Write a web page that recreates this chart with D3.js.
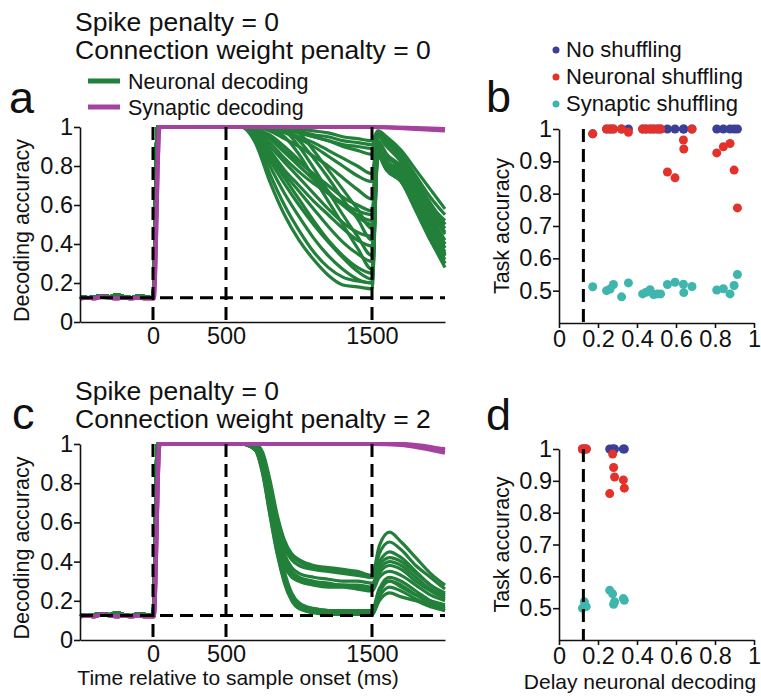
<!DOCTYPE html>
<html>
<head>
<meta charset="utf-8">
<script src="https://cdn.jsdelivr.net/npm/d3@7"></script>
<style>
  body { margin: 0; background: #fff; }
  text { font-family: Arial, "Liberation Sans", sans-serif; fill: #111; }
</style>
</head>
<body>
<div class="chart"></div>
<script>
// ---- data ----
// time before sample onset (ms), shared baseline of the decoders
const preTimes = [-500, -450, -400, -350, -300, -250, -200, -150, -100, -50, -5];
const baseGreen = [0.13, 0.125, 0.13, 0.135, 0.13, 0.14, 0.13, 0.125, 0.135, 0.13, 0.125];
const basePurple = [0.12, 0.125, 0.12, 0.13, 0.125, 0.12, 0.125, 0.12, 0.125, 0.12, 0.12];

// panel a: neuronal decoding traces
const lateTimesA = [600, 700, 800, 900, 1000, 1100, 1200, 1300, 1400, 1500, 1540, 1600, 1700, 1800, 1900, 2000];
const neuronalA = [
  [1, 1, 1, 1, 0.99, 0.98, 0.97, 0.95, 0.94, 0.93, 0.98, 0.95, 0.88, 0.78, 0.68, 0.58],
  [1, 1, 1, 1, 0.98, 0.96, 0.95, 0.93, 0.92, 0.91, 0.97, 0.94, 0.86, 0.75, 0.64, 0.55],
  [1, 1, 1, 0.99, 0.97, 0.95, 0.93, 0.91, 0.9, 0.89, 0.97, 0.93, 0.85, 0.73, 0.61, 0.5],
  [1, 1, 1, 0.99, 0.97, 0.95, 0.93, 0.9, 0.88, 0.86, 0.96, 0.92, 0.84, 0.72, 0.6, 0.52],
  [1, 1, 1, 0.98, 0.95, 0.92, 0.88, 0.84, 0.8, 0.76, 0.95, 0.9, 0.82, 0.7, 0.57, 0.46],
  [1, 1, 1, 1, 0.97, 0.88, 0.78, 0.68, 0.58, 0.48, 0.92, 0.84, 0.8, 0.68, 0.54, 0.42],
  [1, 1, 1, 0.99, 0.93, 0.84, 0.74, 0.63, 0.53, 0.42, 0.9, 0.82, 0.78, 0.66, 0.52, 0.4],
  [1, 1, 1, 0.98, 0.9, 0.79, 0.67, 0.55, 0.44, 0.34, 0.9, 0.8, 0.77, 0.64, 0.5, 0.38],
  [1, 1, 0.99, 0.95, 0.86, 0.74, 0.62, 0.5, 0.38, 0.27, 0.88, 0.79, 0.75, 0.62, 0.47, 0.34],
  [1, 1, 0.98, 0.94, 0.9, 0.85, 0.8, 0.74, 0.68, 0.63, 0.93, 0.86, 0.78, 0.64, 0.5, 0.38],
  [1, 0.99, 0.95, 0.88, 0.82, 0.76, 0.7, 0.64, 0.6, 0.57, 0.92, 0.85, 0.8, 0.68, 0.56, 0.45],
  [1, 0.99, 0.94, 0.87, 0.8, 0.73, 0.66, 0.6, 0.55, 0.52, 0.9, 0.82, 0.78, 0.62, 0.48, 0.35],
  [1, 0.98, 0.92, 0.84, 0.77, 0.71, 0.66, 0.61, 0.57, 0.55, 0.9, 0.8, 0.76, 0.65, 0.5, 0.4],
  [1, 0.98, 0.9, 0.82, 0.74, 0.66, 0.58, 0.51, 0.46, 0.44, 0.88, 0.8, 0.74, 0.6, 0.45, 0.32],
  [1, 0.98, 0.88, 0.78, 0.7, 0.62, 0.55, 0.48, 0.42, 0.39, 0.9, 0.82, 0.78, 0.66, 0.52, 0.4],
  [1, 0.97, 0.86, 0.76, 0.67, 0.58, 0.49, 0.41, 0.35, 0.31, 0.88, 0.8, 0.76, 0.6, 0.46, 0.34],
  [1, 0.97, 0.85, 0.74, 0.63, 0.52, 0.42, 0.34, 0.28, 0.25, 0.87, 0.78, 0.72, 0.58, 0.42, 0.3],
  [1, 0.96, 0.83, 0.71, 0.6, 0.5, 0.41, 0.33, 0.26, 0.22, 0.86, 0.78, 0.72, 0.57, 0.42, 0.28],
  [1, 0.95, 0.8, 0.66, 0.54, 0.43, 0.34, 0.27, 0.22, 0.2, 0.88, 0.8, 0.74, 0.6, 0.46, 0.34],
  [1, 0.94, 0.76, 0.6, 0.47, 0.36, 0.28, 0.23, 0.21, 0.2, 0.86, 0.78, 0.72, 0.58, 0.44, 0.3],
  [1, 0.92, 0.72, 0.55, 0.42, 0.32, 0.24, 0.19, 0.18, 0.17, 0.85, 0.78, 0.74, 0.62, 0.48, 0.36],
  [1, 1, 0.99, 0.97, 0.94, 0.9, 0.85, 0.8, 0.75, 0.72, 0.96, 0.92, 0.84, 0.72, 0.6, 0.5],
  [1, 0.99, 0.96, 0.9, 0.83, 0.75, 0.67, 0.6, 0.54, 0.5, 0.92, 0.86, 0.8, 0.7, 0.58, 0.48]
];
const purpleTimesA = [600, 1000, 1500, 1800, 2000];
const synapticA = [
  [1, 1, 1, 0.995, 0.99],
  [1, 1, 1, 0.99, 0.982]
];

// panel c: neuronal decoding traces
const lateTimesC = [600, 700, 750, 800, 850, 900, 950, 1000, 1100, 1200, 1300, 1400, 1500, 1550, 1620, 1700, 1800, 1900, 2000];
const neuronalC = [
  [1, 1, 0.96, 0.82, 0.64, 0.51, 0.44, 0.41, 0.38, 0.37, 0.36, 0.35, 0.33, 0.48, 0.55, 0.5, 0.42, 0.34, 0.28],
  [1, 1, 0.95, 0.8, 0.62, 0.49, 0.43, 0.4, 0.37, 0.36, 0.35, 0.34, 0.32, 0.44, 0.5, 0.46, 0.38, 0.32, 0.26],
  [1, 0.99, 0.94, 0.78, 0.6, 0.47, 0.41, 0.38, 0.36, 0.35, 0.34, 0.33, 0.32, 0.4, 0.45, 0.42, 0.35, 0.28, 0.24],
  [1, 0.99, 0.93, 0.76, 0.57, 0.44, 0.37, 0.34, 0.32, 0.31, 0.3, 0.3, 0.29, 0.36, 0.4, 0.38, 0.32, 0.26, 0.22],
  [1, 0.99, 0.92, 0.74, 0.55, 0.42, 0.35, 0.32, 0.3, 0.29, 0.28, 0.28, 0.27, 0.38, 0.42, 0.4, 0.34, 0.28, 0.23],
  [1, 0.99, 0.91, 0.72, 0.53, 0.4, 0.34, 0.31, 0.29, 0.28, 0.28, 0.27, 0.26, 0.34, 0.38, 0.36, 0.3, 0.25, 0.21],
  [1, 0.98, 0.9, 0.7, 0.51, 0.38, 0.32, 0.3, 0.28, 0.27, 0.27, 0.26, 0.25, 0.32, 0.35, 0.33, 0.28, 0.23, 0.2],
  [1, 0.98, 0.9, 0.72, 0.52, 0.35, 0.24, 0.19, 0.16, 0.15, 0.14, 0.14, 0.14, 0.26, 0.32, 0.3, 0.25, 0.2, 0.17],
  [1, 0.98, 0.88, 0.7, 0.5, 0.33, 0.22, 0.18, 0.15, 0.14, 0.14, 0.14, 0.13, 0.24, 0.3, 0.28, 0.23, 0.19, 0.16],
  [1, 0.97, 0.87, 0.67, 0.47, 0.31, 0.21, 0.17, 0.14, 0.14, 0.13, 0.13, 0.13, 0.22, 0.27, 0.25, 0.21, 0.18, 0.15],
  [1, 0.97, 0.86, 0.65, 0.45, 0.29, 0.2, 0.16, 0.14, 0.13, 0.13, 0.13, 0.13, 0.2, 0.24, 0.22, 0.2, 0.17, 0.15],
  [1, 0.97, 0.85, 0.64, 0.44, 0.3, 0.21, 0.17, 0.16, 0.15, 0.15, 0.15, 0.15, 0.26, 0.3, 0.27, 0.23, 0.2, 0.18]
];
const purpleTimesC = [600, 1500, 1700, 1800, 1900, 2000];
const synapticC = [
  [1, 1, 1, 0.995, 0.985, 0.97],
  [1, 1, 0.995, 0.985, 0.97, 0.955],
  [1, 1, 1, 0.99, 0.98, 0.975]
];

// panel b: task accuracy vs delay neuronal decoding
const delayB = [0.173, 0.244, 0.262, 0.279, 0.321, 0.356, 0.429, 0.447, 0.467, 0.485, 0.505, 0.521, 0.556, 0.595, 0.638, 0.640, 0.682, 0.809, 0.843, 0.877, 0.898, 0.915];
const noShufB = [0.985, 1, 1, 1, 1, 1, 1, 1, 1, 1, 1, 1, 1, 1, 1, 1, 1, 1, 1, 1, 1, 1];
const neurShufB = [0.985, 1, 1, 1, 1, 0.99, 1, 1, 1, 1, 1, 1, 0.867, 0.849, 0.966, 0.938, 1, 0.926, 0.945, 0.955, 0.873, 0.756];
const synShufB = [0.512, 0.5, 0.505, 0.519, 0.481, 0.524, 0.49, 0.495, 0.503, 0.488, 0.49, 0.49, 0.519, 0.526, 0.52, 0.494, 0.513, 0.502, 0.506, 0.49, 0.516, 0.55];

// panel d
const delayD = [0.12, 0.13, 0.14, 0.26, 0.275, 0.28, 0.285, 0.33, 0.335];
const noShufD = [1, 1, 1, 1, 1, 1, 1, 1, 1];
const neurShufD = [1, 1, 1, 0.86, 0.984, 0.942, 0.912, 0.903, 0.877];
const synShufD = [0.5, 0.52, 0.505, 0.556, 0.545, 0.512, 0.52, 0.53, 0.525];

const timeTicks = [0, 500, 1500];
const accTicks = [0, 0.2, 0.4, 0.6, 0.8, 1];
const taskTicks = [0.5, 0.6, 0.7, 0.8, 0.9, 1];
const delayTicks = [0, 0.2, 0.4, 0.6, 0.8, 1];
const chance = 0.125;

const green = '#23803a', purple = '#a5429f';
const navy = '#3c3f98', red = '#e4322b', teal = '#3fb6ad';

const svg = d3.select('.chart')
  .append('svg')
    .attr('width', 761)
    .attr('height', 696);

const fmt = d3.format('~g');
const tickFont = 23.5;

const styleAxis = (a) => {
  a.selectAll('text').attr('font-size', tickFont).attr('fill', '#111');
  a.selectAll('path, line').attr('stroke', '#111').attr('stroke-width', 1.6);
};

const drawTimePanel = (yRange, lateTimes, greens, purpleTimes, purples, showXTitle) => {
  const x = d3.scaleLinear().domain([-500, 2000]).range([80, 445]);
  const y = d3.scaleLinear().domain([0, 1]).range(yRange);
  const g = svg.append('g');

  const line = d3.line()
    .x(d => x(d[0]))
    .y(d => y(d[1]))
    .curve(d3.curveMonotoneX);

  const pre = (base) => preTimes.map((t, i) => [t, base[i]]);

  // neuronal decoding (green)
  g.selectAll('path.neur')
    .data(greens.map(tr => pre(baseGreen).concat([[0, baseGreen[baseGreen.length - 1]], [30, 1]], lateTimes.map((t, j) => [t, tr[j]]))))
    .enter().append('path')
      .attr('class', 'neur')
      .attr('d', line)
      .attr('fill', 'none')
      .attr('stroke', green)
      .attr('stroke-width', 3.2);

  // synaptic decoding (purple)
  g.selectAll('path.syn')
    .data(purples.map(tr => pre(basePurple).concat([[5, basePurple[basePurple.length - 1]], [45, 1]], purpleTimes.map((t, j) => [t, tr[j]]))))
    .enter().append('path')
      .attr('class', 'syn')
      .attr('d', line)
      .attr('fill', 'none')
      .attr('stroke', purple)
      .attr('stroke-width', 4);

  // dashed reference lines
  g.append('line')
    .attr('x1', x(-500)).attr('x2', x(2000))
    .attr('y1', y(chance)).attr('y2', y(chance))
    .attr('stroke', '#000').attr('stroke-width', 3).attr('stroke-dasharray', '13,7');
  g.selectAll('line.vd')
    .data(timeTicks)
    .enter().append('line')
      .attr('class', 'vd')
      .attr('x1', d => x(d)).attr('x2', d => x(d))
      .attr('y1', y(1)).attr('y2', y(0))
      .attr('stroke', '#000').attr('stroke-width', 3).attr('stroke-dasharray', '13,7');

  const xAxis = d3.axisBottom(x).tickValues(timeTicks).tickSize(0).tickPadding(5).tickFormat(fmt);
  const yAxis = d3.axisLeft(y).tickValues(accTicks).tickSize(6).tickSizeOuter(0).tickPadding(1).tickFormat(fmt);

  styleAxis(g.append('g').attr('transform', `translate(0, ${yRange[0]})`).call(xAxis));
  styleAxis(g.append('g').attr('transform', 'translate(80, 0)').call(yAxis));

  g.append('text')
    .attr('transform', `translate(29, ${(yRange[0] + yRange[1]) / 2 + 6}) rotate(-90)`)
    .attr('text-anchor', 'middle')
    .attr('font-size', 21.5)
    .text('Decoding accuracy');

  if (showXTitle) {
    g.append('text')
      .attr('x', 238).attr('y', 685)
      .attr('text-anchor', 'middle')
      .attr('font-size', 21)
      .text('Time relative to sample onset (ms)');
  }
};

const drawScatterPanel = (yRange, delays, noShuf, neurShuf, synShuf, showXTitle) => {
  const x = d3.scaleLinear().domain([0, 1]).range([559, 754]);
  const y = d3.scaleLinear().domain([0.4, 1]).range(yRange);
  const g = svg.append('g');

  const sets = [[noShuf, navy], [neurShuf, red], [synShuf, teal]];
  sets.forEach(([vals, col]) => {
    g.selectAll(null)
      .data(delays.map((d, i) => [d, vals[i]]))
      .enter().append('circle')
        .attr('cx', d => x(d[0]))
        .attr('cy', d => y(d[1]))
        .attr('r', 4.5)
        .attr('fill', col);
  });

  g.append('line')
    .attr('x1', x(chance)).attr('x2', x(chance))
    .attr('y1', y(1)).attr('y2', y(0.4))
    .attr('stroke', '#000').attr('stroke-width', 3).attr('stroke-dasharray', '13,7');

  const xAxis = d3.axisBottom(x).tickValues(delayTicks).tickSize(5).tickSizeOuter(0).tickPadding(2).tickFormat(fmt);
  const yAxis = d3.axisLeft(y).tickValues(taskTicks).tickSize(6).tickSizeOuter(0).tickPadding(1).tickFormat(fmt);
  styleAxis(g.append('g').attr('transform', `translate(0, ${yRange[0]})`).call(xAxis));
  styleAxis(g.append('g').attr('transform', 'translate(559, 0)').call(yAxis));

  g.append('text')
    .attr('transform', `translate(509, ${(yRange[0] + yRange[1]) / 2}) rotate(-90)`)
    .attr('text-anchor', 'middle')
    .attr('font-size', 21.5)
    .text('Task accuracy');

  if (showXTitle) {
    g.append('text')
      .attr('x', 640).attr('y', 689)
      .attr('text-anchor', 'middle')
      .attr('font-size', 21)
      .text('Delay neuronal decoding');
  }
};

drawTimePanel([322, 127], lateTimesA, neuronalA, purpleTimesA, synapticA, false);
drawTimePanel([640, 444], lateTimesC, neuronalC, purpleTimesC, synapticC, true);
drawScatterPanel([323, 129], delayB, noShufB, neurShufB, synShufB, false);
drawScatterPanel([640, 449], delayD, noShufD, neurShufD, synShufD, true);

// titles
const titles = [
  ['Spike penalty = 0', 31], ['Connection weight penalty = 0', 59],
  ['Spike penalty = 0', 400], ['Connection weight penalty = 2', 428]
];
svg.selectAll('text.title')
  .data(titles)
  .enter().append('text')
    .attr('class', 'title')
    .attr('x', 75).attr('y', d => d[1])
    .attr('font-size', 26.5)
    .text(d => d[0]);

// panel letters
const letters = [['a', 9, 113], ['b', 486, 112], ['c', 12, 429], ['d', 486, 430]];
svg.selectAll('text.letter')
  .data(letters)
  .enter().append('text')
    .attr('class', 'letter')
    .attr('x', d => d[1]).attr('y', d => d[2])
    .attr('font-size', 45)
    .text(d => d[0]);

// legend panel a
const legA = [['Neuronal decoding', green], ['Synaptic decoding', purple]];
const la = svg.append('g');
la.selectAll('line')
  .data(legA)
  .enter().append('line')
    .attr('x1', 88).attr('x2', 120)
    .attr('y1', (d, i) => 81 + i * 26).attr('y2', (d, i) => 81 + i * 26)
    .attr('stroke', d => d[1]).attr('stroke-width', 5);
la.selectAll('text')
  .data(legA)
  .enter().append('text')
    .attr('x', 128).attr('y', (d, i) => 89 + i * 26)
    .attr('font-size', 21.5)
    .text(d => d[0]);

// legend panel b
const legB = [['No shuffling', navy], ['Neuronal shuffling', red], ['Synaptic shuffling', teal]];
const lb = svg.append('g');
lb.selectAll('circle')
  .data(legB)
  .enter().append('circle')
    .attr('cx', 556).attr('cy', (d, i) => 50 + i * 27)
    .attr('r', 3.5)
    .attr('fill', d => d[1]);
lb.selectAll('text')
  .data(legB)
  .enter().append('text')
    .attr('x', 566).attr('y', (d, i) => 57 + i * 27)
    .attr('font-size', 22)
    .text(d => d[0]);
</script>
</body>
</html>
